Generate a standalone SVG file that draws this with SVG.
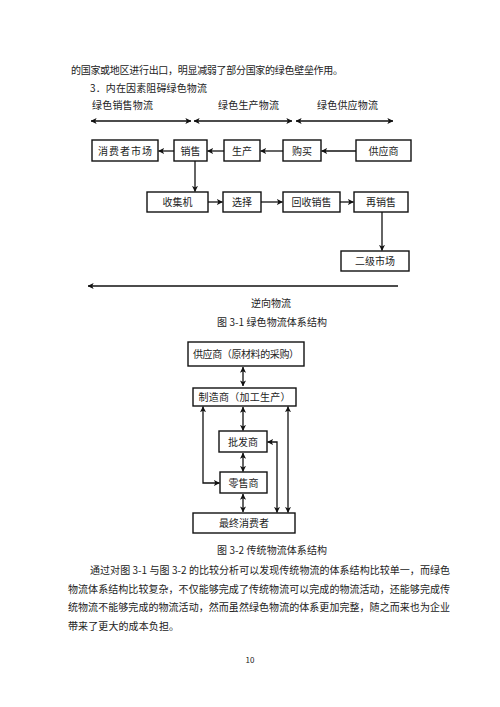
<svg xmlns="http://www.w3.org/2000/svg" width="500" height="707" viewBox="0 0 500 707">
<style>
text{font-family:"Noto Sans CJK SC","Noto Sans",sans-serif;font-size:10px;fill:#222}
.c{text-anchor:middle}
.b{fill:#fff;stroke:#111;stroke-width:1.4}
.l{fill:none;stroke:#111;stroke-width:1.3}
</style>
<defs>
<marker id="a" viewBox="0 0 8 8" refX="7.5" refY="4" markerWidth="6" markerHeight="6" markerUnits="userSpaceOnUse" orient="auto-start-reverse"><path d="M0,0 L8,4 L0,8 L2,4 Z" fill="#111"/></marker>
</defs>
<rect width="500" height="707" fill="#fff"/>
<text x="71" y="73.5" textLength="272">的国家或地区进行出口，明显减弱了部分国家的绿色壁垒作用。</text>
<text x="90" y="92" textLength="117">3．内在因素阻碍绿色物流</text>
<text x="92" y="108.5" textLength="61">绿色销售物流</text>
<text x="218" y="108.5" textLength="61">绿色生产物流</text>
<text x="317" y="108.5" textLength="61">绿色供应物流</text>
<g id="connectors">
<path class="l" d="M91,121 H191" marker-start="url(#a)" marker-end="url(#a)"/>
<path class="l" d="M194,121 H292" marker-start="url(#a)" marker-end="url(#a)"/>
<path class="l" d="M296,121 H393" marker-start="url(#a)" marker-end="url(#a)"/>
<path class="l" d="M174,151 H158.5" marker-end="url(#a)"/>
<path class="l" d="M224,151 H207.5" marker-end="url(#a)"/>
<path class="l" d="M283,151 H260.5" marker-end="url(#a)"/>
<path class="l" d="M356,151 H321.5" marker-end="url(#a)"/>
<path class="l" d="M195,161 V191.5" marker-end="url(#a)"/>
<path class="l" d="M208,202 H222.5" marker-end="url(#a)"/>
<path class="l" d="M261,202 H282.5" marker-end="url(#a)"/>
<path class="l" d="M340,202 H353.5" marker-end="url(#a)"/>
<path class="l" d="M382,212 V250.5" marker-end="url(#a)"/>
<path class="l" d="M398,286 H88" marker-end="url(#a)"/>
<path class="l" d="M243,367 V386" marker-start="url(#a)" marker-end="url(#a)"/>
<path class="l" d="M243,407 V430.5" marker-start="url(#a)" marker-end="url(#a)"/>
<path class="l" d="M243,453 V471.5" marker-start="url(#a)" marker-end="url(#a)"/>
<path class="l" d="M243,494 V512" marker-start="url(#a)" marker-end="url(#a)"/>
<path class="l" d="M203,406.5 V483 H219.5" marker-start="url(#a)" marker-end="url(#a)"/>
<path class="l" d="M267.5,442 H277 V512.5" marker-start="url(#a)" marker-end="url(#a)"/>
<path class="l" d="M288,406.5 V512.5" marker-start="url(#a)" marker-end="url(#a)"/>
</g>
<g id="n1"><rect class="b" x="92" y="140" width="66" height="21"/><text class="c" x="125" y="154.5" textLength="54">消费者市场</text></g>
<g id="n2"><rect class="b" x="174" y="140" width="33" height="21"/><text class="c" x="190.5" y="154.5">销售</text></g>
<g id="n3"><rect class="b" x="224" y="140" width="36" height="21"/><text class="c" x="242" y="154.5">生产</text></g>
<g id="n4"><rect class="b" x="283" y="140" width="38" height="21"/><text class="c" x="302" y="154.5">购买</text></g>
<g id="n5"><rect class="b" x="356" y="140" width="55" height="21"/><text class="c" x="383.5" y="154.5">供应商</text></g>
<g id="n6"><rect class="b" x="147" y="192" width="61" height="20"/><text class="c" x="177.5" y="206">收集机</text></g>
<g id="n7"><rect class="b" x="223" y="192" width="38" height="20"/><text class="c" x="242" y="206">选择</text></g>
<g id="n8"><rect class="b" x="283" y="192" width="57" height="20"/><text class="c" x="311.5" y="206">回收销售</text></g>
<g id="n9"><rect class="b" x="354" y="192" width="54" height="20"/><text class="c" x="381" y="206">再销售</text></g>
<g id="n10"><rect class="b" x="341" y="251" width="68" height="20"/><text class="c" x="375" y="265">二级市场</text></g>
<text class="c" x="271" y="307">逆向物流</text>
<text x="217" y="326" textLength="110">图 3-1  绿色物流体系结构</text>
<g id="m1"><rect class="b" x="188" y="342" width="116" height="24"/><text class="c" x="246" y="358" textLength="106">供应商（原材料的采购）</text></g>
<g id="m2"><rect class="b" x="193" y="388" width="103" height="18"/><text class="c" x="244.5" y="401" textLength="92">制造商（加工生产）</text></g>
<g id="m3"><rect class="b" x="219" y="431" width="48" height="21"/><text class="c" x="243" y="445.5">批发商</text></g>
<g id="m4"><rect class="b" x="220" y="472" width="47" height="21"/><text class="c" x="243.5" y="486.5">零售商</text></g>
<g id="m5"><rect class="b" x="193" y="513" width="102" height="20"/><text class="c" x="244" y="527">最终消费者</text></g>
<text x="217" y="554" textLength="110">图 3-2  传统物流体系结构</text>
<text x="90" y="574" textLength="360">通过对图 3-1 与图 3-2 的比较分析可以发现传统物流的体系结构比较单一，而绿色</text>
<text x="68" y="592.5" textLength="382">物流体系结构比较复杂，不仅能够完成了传统物流可以完成的物流活动，还能够完成传</text>
<text x="68" y="611" textLength="382">统物流不能够完成的物流活动，然而虽然绿色物流的体系更加完整，随之而来也为企业</text>
<text x="68" y="629.5" textLength="111">带来了更大的成本负担。</text>
<text class="c" x="250" y="663" style="font-size:8px">10</text>
</svg>
